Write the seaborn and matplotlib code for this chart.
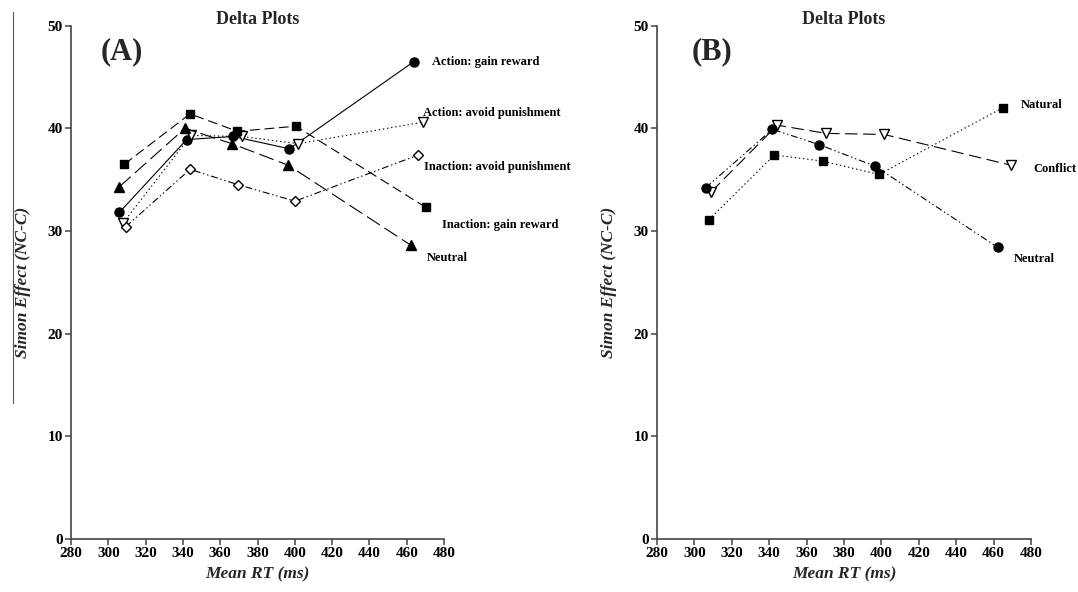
import matplotlib
matplotlib.use("Agg")
import matplotlib.pyplot as plt
import seaborn as sns
import pandas as pd
from matplotlib.lines import Line2D

# ---------------- data ----------------
# Panel A
a_action_gain_rt = [305.9, 342.0, 367.0, 397.1, 463.9]
a_action_gain_se = [31.8, 38.9, 39.2, 38.0, 46.5]

a_action_avoid_rt = [308.0, 344.2, 371.5, 401.9, 468.9]
a_action_avoid_se = [30.8, 39.3, 39.2, 38.5, 40.6]

a_inaction_avoid_rt = [309.3, 343.8, 369.7, 400.1, 466.2]
a_inaction_avoid_se = [30.4, 36.0, 34.5, 32.9, 37.4]

a_inaction_gain_rt = [308.6, 343.8, 369.2, 400.6, 470.2]
a_inaction_gain_se = [36.5, 41.4, 39.7, 40.2, 32.3]

a_neutral_rt = [305.9, 341.1, 366.2, 396.5, 462.3]
a_neutral_se = [34.3, 40.0, 38.5, 36.4, 28.6]

# Panel B
b_natural_rt = [307.8, 342.7, 368.6, 398.7, 464.9]
b_natural_se = [31.1, 37.4, 36.8, 35.5, 42.0]

b_conflict_rt = [308.9, 344.3, 370.4, 401.4, 469.3]
b_conflict_se = [33.8, 40.3, 39.5, 39.4, 36.4]

b_neutral_rt = [306.0, 341.7, 366.8, 396.7, 462.2]
b_neutral_se = [34.2, 39.9, 38.4, 36.3, 28.4]

labels_A = ["Action: gain reward", "Action: avoid punishment",
            "Inaction: avoid punishment", "Inaction: gain reward", "Neutral"]
labels_B = ["Natural", "Conflict", "Neutral"]

x_ticks = list(range(280, 481, 20))
y_ticks = list(range(0, 51, 10))

title_text = "Delta Plots"
x_label = "Mean RT (ms)"
y_label = "Simon Effect (NC-C)"
panel_tags = ["(A)", "(B)"]

# ---------------- style ----------------
sns.set_style("ticks")
plt.rcParams["font.family"] = ["Liberation Serif", "DejaVu Serif"]
plt.rcParams["font.weight"] = "bold"
plt.rcParams["lines.scale_dashes"] = False

AX_COL = "#444444"

fig = plt.figure(figsize=(10.78, 5.92), dpi=100)
axA = fig.add_axes([0.0659, 0.0895, 0.3460, 0.8673])
axB = fig.add_axes([0.6095, 0.0895, 0.3469, 0.8673])

# style specs: (marker, facecolor, linestyle, markersize, text offset px)
styles_A = [
    ("o", "black", "-", 6.5, (18, 0)),
    ("v", "white", (0, (1.0, 2.0)), 7.0, (0, -9)),
    ("D", "white", (0, (5, 2, 1, 2, 1, 2)), 5.5, (6, 12.5)),
    ("s", "black", (0, (7, 3.5)), 5.5, (16, 18)),
    ("^", "black", (0, (11, 4)), 6.5, (16, 12.5)),
]
series_A = [
    (a_action_gain_rt, a_action_gain_se),
    (a_action_avoid_rt, a_action_avoid_se),
    (a_inaction_avoid_rt, a_inaction_avoid_se),
    (a_inaction_gain_rt, a_inaction_gain_se),
    (a_neutral_rt, a_neutral_se),
]
styles_B = [
    ("s", "black", (0, (1.0, 2.0)), 5.5, (18, -2.5)),
    ("v", "white", (0, (9, 4)), 7.0, (22, 4)),
    ("o", "black", (0, (5, 2, 1, 2, 1, 2)), 6.5, (16, 11.5)),
]
series_B = [
    (b_natural_rt, b_natural_se),
    (b_conflict_rt, b_conflict_se),
    (b_neutral_rt, b_neutral_se),
]


def draw_panel(ax, series, styles, labels, tag):
    for (xs, ys), (mk, fc, ls, ms, off), lab in zip(series, styles, labels):
        df = pd.DataFrame({"rt": xs, "se": ys})
        sns.lineplot(data=df, x="rt", y="se", ax=ax, color="black",
                     linewidth=0.8, linestyle=ls, marker=mk, markersize=ms,
                     markerfacecolor=fc, markeredgecolor="black",
                     markeredgewidth=1.0, sort=False, estimator=None,
                     clip_on=False)
        ax.annotate(lab, xy=(xs[-1], ys[-1]),
                    xytext=(off[0] * 0.72, -off[1] * 0.72),
                    textcoords="offset points", ha="left", va="center",
                    fontsize=9, fontweight="bold", color="black")
    ax.set_xlim(280, 480)
    ax.set_ylim(0, 50)
    ax.set_xticks(x_ticks)
    ax.set_yticks(y_ticks)
    ax.set_xticklabels([str(v) for v in x_ticks])
    ax.set_yticklabels([str(v) for v in y_ticks])
    for s in ["top", "right"]:
        ax.spines[s].set_visible(False)
    for s in ["left", "bottom"]:
        ax.spines[s].set_color(AX_COL)
        ax.spines[s].set_linewidth(1.2)
    ax.tick_params(axis="both", colors=AX_COL, length=4, width=1.1,
                   labelcolor="black", labelsize=11, pad=2)
    for t in ax.get_xticklabels() + ax.get_yticklabels():
        t.set_fontweight("bold")
    ax.set_xlabel(x_label, fontsize=12.5, fontstyle="italic",
                  fontweight="bold", labelpad=4)
    ax.set_ylabel(y_label, fontsize=12.5, fontstyle="italic",
                  fontweight="bold", labelpad=12)
    ax.text(0.5, 1.011, title_text, transform=ax.transAxes, ha="center",
            va="center", fontsize=13, fontweight="bold")
    ax.text(tag[1], 0.949, tag[0], transform=ax.transAxes, ha="center",
            va="center", fontsize=22, fontweight="bold")
    ax.set_facecolor("white")


draw_panel(axA, series_A, styles_A, labels_A, (panel_tags[0], 0.137))
draw_panel(axB, series_B, styles_B, labels_B, (panel_tags[1], 0.147))

# faint scan border at far left
fig.add_artist(Line2D([0.012, 0.012], [0.32, 0.98], transform=fig.transFigure,
                      color="#555555", linewidth=0.8))

fig.savefig("out.png", dpi=100, facecolor="white")
